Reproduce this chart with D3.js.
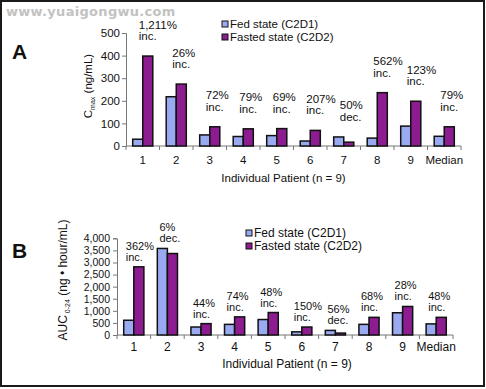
<!DOCTYPE html>
<html>
<head>
<meta charset="utf-8">
<script src="https://cdn.jsdelivr.net/npm/d3@7"></script>
<style>
  body { margin: 0; background: #fff; }
  svg text { font-family: "Liberation Sans", Arial, sans-serif; fill: #111; }
</style>
</head>
<body>
<script>
// data
const categories = ["1", "2", "3", "4", "5", "6", "7", "8", "9", "Median"];
const seriesNames = ["Fed state (C2D1)", "Fasted state (C2D2)"];

const cmaxFed    = [30, 218, 49, 42, 46, 22, 40, 35, 88, 43];
const cmaxFasted = [398, 274, 85, 76, 77, 69, 17, 236, 198, 85];
const cmaxChange = ["1,211%", "26%", "72%", "79%", "69%", "207%", "50%", "562%", "123%", "79%"];
const cmaxDir    = ["inc.", "inc.", "inc.", "inc.", "inc.", "inc.", "dec.", "inc.", "inc.", "inc."];
const cmaxTicks  = [0, 100, 200, 300, 400, 500];

const aucFed    = [610, 3580, 330, 440, 640, 130, 190, 440, 920, 460];
const aucFasted = [2820, 3370, 470, 750, 930, 330, 80, 730, 1180, 730];
const aucChange = ["362%", "6%", "44%", "74%", "48%", "150%", "56%", "68%", "28%", "48%"];
const aucDir    = ["inc.", "dec.", "inc.", "inc.", "inc.", "inc.", "dec.", "inc.", "inc.", "inc."];
const aucTicks  = [0, 500, 1000, 1500, 2000, 2500, 3000, 3500, 4000];

const colors = ["#9aaaf0", "#8c1c8f"];
const width = 486, height = 389;

var svg = d3.select("body").append("svg")
  .attr("width", width)
  .attr("height", height);

svg.append("rect")
  .attr("x", 1).attr("y", 1)
  .attr("width", 483).attr("height", 385)
  .attr("fill", "#fff")
  .attr("stroke", "#1a1a1a")
  .attr("stroke-width", 2);

svg.append("text")
  .attr("x", 6).attr("y", 16)
  .style("font-family", "'DejaVu Sans', sans-serif")
  .style("font-weight", "bold")
  .style("font-size", "13px")
  .style("letter-spacing", "0.3px")
  .style("fill", "#c2c2c2")
  .text("www.yuaigongwu.com");

function panel(cfg) {
  const g = svg.append("g");

  const x0 = d3.scaleBand().domain(categories)
    .range([cfg.left, cfg.right])
    .paddingInner(0.4).paddingOuter(0.2);
  const x1 = d3.scaleBand().domain([0, 1]).range([0, x0.bandwidth()]);
  const y = d3.scaleLinear().domain([0, cfg.ticks[cfg.ticks.length - 1]])
    .range([cfg.bottom, cfg.top]);

  // y axis
  const yAxis = d3.axisLeft(y)
    .tickValues(cfg.ticks)
    .tickSize(4)
    .tickPadding(cfg.tickPad)
    .tickFormat(d3.format(","));
  const ya = g.append("g")
    .attr("transform", `translate(${cfg.left},0)`)
    .call(yAxis);
  ya.select(".domain").attr("stroke", "#777");
  ya.selectAll(".tick line").attr("stroke", "#777");
  ya.selectAll(".tick text")
    .style("font-size", cfg.tickFont)
    .style("font-family", "'Liberation Sans', Arial, sans-serif");

  // x axis line + ticks between categories
  g.append("line")
    .attr("x1", cfg.left).attr("x2", cfg.right)
    .attr("y1", cfg.bottom).attr("y2", cfg.bottom)
    .attr("stroke", "#777");
  g.selectAll("line.xtick")
    .data(d3.range(categories.length + 1))
    .enter().append("line")
    .attr("class", "xtick")
    .attr("x1", i => cfg.left + i * x0.step())
    .attr("x2", i => cfg.left + i * x0.step())
    .attr("y1", cfg.bottom).attr("y2", cfg.bottom + 4)
    .attr("stroke", "#777");

  g.selectAll("text.xlab")
    .data(categories)
    .enter().append("text")
    .attr("class", "xlab")
    .attr("x", d => x0(d) + x0.bandwidth() / 2)
    .attr("y", cfg.bottom + cfg.xlabOff)
    .attr("text-anchor", "middle")
    .style("font-size", cfg.labFont)
    .text(d => d);

  // bars
  const rows = categories.map((c, i) => ({ cat: c, vals: [cfg.fed[i], cfg.fasted[i]] }));
  const grp = g.selectAll("g.cat")
    .data(rows)
    .enter().append("g")
    .attr("class", "cat")
    .attr("transform", d => `translate(${x0(d.cat)},0)`);
  grp.selectAll("rect")
    .data(d => d.vals)
    .enter().append("rect")
    .attr("x", (v, j) => x1(j))
    .attr("width", x1.bandwidth())
    .attr("y", v => y(v))
    .attr("height", v => cfg.bottom - y(v))
    .attr("fill", (v, j) => colors[j])
    .attr("stroke", "#111")
    .attr("stroke-width", 1.5);

  // change annotations
  const ann = g.selectAll("text.ann")
    .data(rows)
    .enter().append("text")
    .attr("class", "ann")
    .style("font-size", cfg.annFont);
  ann.append("tspan")
    .attr("x", d => x0(d.cat) + x0.bandwidth() / 2 + cfg.annDx)
    .attr("y", d => y(d3.max(d.vals)) - cfg.annGap - cfg.lineH)
    .text((d, i) => cfg.change[i]);
  ann.append("tspan")
    .attr("x", d => x0(d.cat) + x0.bandwidth() / 2 + cfg.annDx)
    .attr("y", d => y(d3.max(d.vals)) - cfg.annGap)
    .text((d, i) => cfg.dir[i]);

  // axis titles
  g.append("text")
    .attr("x", (cfg.left + cfg.right) / 2 + cfg.xtitleDx)
    .attr("y", cfg.bottom + cfg.xtitleOff)
    .attr("text-anchor", "middle")
    .style("font-size", cfg.labFont)
    .text("Individual Patient (n = 9)");

  const yt = g.append("text")
    .attr("transform", `translate(${cfg.ytitleX},${cfg.ytitleY}) rotate(-90)`)
    .attr("text-anchor", "middle")
    .style("font-size", cfg.labFont);
  yt.append("tspan").text(cfg.yMain);
  yt.append("tspan").attr("dy", 3).style("font-size", "7px").text(cfg.ySub);
  yt.append("tspan").attr("dy", -3).text(cfg.yRest);

  // panel letter
  g.append("text")
    .attr("x", 12).attr("y", cfg.letterY)
    .style("font-size", "21px")
    .style("font-weight", "bold")
    .text(cfg.letter);

  // legend
  const lg = g.selectAll("g.leg")
    .data(seriesNames)
    .enter().append("g")
    .attr("class", "leg")
    .attr("transform", (d, i) => `translate(${cfg.legX},${cfg.legY + i * 13})`);
  lg.append("rect")
    .attr("x", 0).attr("y", -3)
    .attr("width", 6).attr("height", 6)
    .attr("fill", (d, i) => colors[i])
    .attr("stroke", "#111").attr("stroke-width", 1);
  lg.append("text")
    .attr("x", 8).attr("y", 4)
    .style("font-size", cfg.legFont)
    .text(d => d);
}

panel({
  letter: "A", letterY: 59,
  left: 126, right: 461, top: 33, bottom: 146,
  ticks: cmaxTicks, fed: cmaxFed, fasted: cmaxFasted,
  change: cmaxChange, dir: cmaxDir,
  tickFont: "11.5px", tickPad: 2, xlabOff: 18, xtitleOff: 36, xtitleDx: -10,
  labFont: "11.5px", annFont: "11.5px",
  annDx: -4, annGap: 16, lineH: 11.5,
  yMain: "C", ySub: "max", yRest: " (ng/mL)", ytitleX: 92, ytitleY: 86,
  legX: 222, legY: 24, legFont: "11.5px"
});

panel({
  letter: "B", letterY: 258,
  left: 117, right: 453, top: 238.3, bottom: 335,
  ticks: aucTicks, fed: aucFed, fasted: aucFasted,
  change: aucChange, dir: aucDir,
  tickFont: "10.5px", tickPad: 3, xlabOff: 16, xtitleOff: 33, xtitleDx: 2,
  labFont: "12px", annFont: "11px",
  annDx: -8, annGap: 6, lineH: 11,
  yMain: "AUC", ySub: " 0-24", yRest: " (ng • hour/mL)", ytitleX: 67, ytitleY: 280,
  legX: 246, legY: 233, legFont: "12px"
});
</script>
</body>
</html>
